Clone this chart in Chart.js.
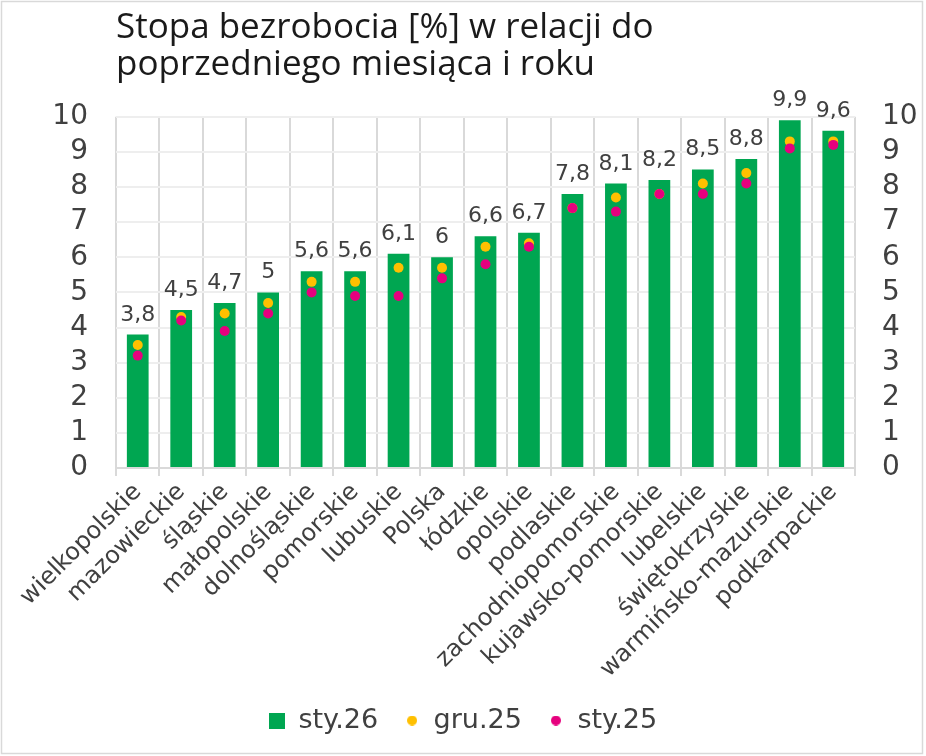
<!DOCTYPE html>
<html>
<head>
<meta charset="utf-8">
<script src="https://cdn.jsdelivr.net/npm/chart.js@4/dist/chart.umd.min.js"></script>
<style>
  html, body { margin: 0; padding: 0; background: #fff; }
  #wrap { position: relative; width: 926px; height: 756px; }
</style>
</head>
<body>
<div id="wrap"><canvas id="c" width="926" height="756"></canvas></div>
<script>
const categories = ["wielkopolskie","mazowieckie","śląskie","małopolskie","dolnośląskie","pomorskie","lubuskie","Polska","łódzkie","opolskie","podlaskie","zachodniopomorskie","kujawsko-pomorskie","lubelskie","świętokrzyskie","warmińsko-mazurskie","podkarpackie"];
const sty26 = [3.8,4.5,4.7,5,5.6,5.6,6.1,6,6.6,6.7,7.8,8.1,8.2,8.5,8.8,9.9,9.6];
const gru25 = [3.5,4.3,4.4,4.7,5.3,5.3,5.7,5.7,6.3,6.4,7.4,7.7,7.8,8.1,8.4,9.3,9.3];
const sty25 = [3.2,4.2,3.9,4.4,5.0,4.9,4.9,5.4,5.8,6.3,7.4,7.3,7.8,7.8,8.1,9.1,9.2];
const seriesNames = ["sty.26","gru.25","sty.25"];
const yTicks = [0,1,2,3,4,5,6,7,8,9,10];
const titleLines = ["Stopa bezrobocia [%] w relacji do","poprzedniego miesiąca i roku"];

const GREEN = "#00A651", YELLOW = "#FFC000", PINK = "#E6007E";
const TXT = "#404040";
const FONT = "'DejaVu Sans', sans-serif";

function makeIcon(kind, color, size) {
  const c = document.createElement('canvas');
  c.width = size; c.height = size;
  const g = c.getContext('2d');
  g.fillStyle = color;
  if (kind === 'rect') g.fillRect(0, 0, size, size);
  else { g.beginPath(); g.arc(size/2, size/2, size/2, 0, Math.PI*2); g.fill(); }
  return c;
}
const legendIcons = [makeIcon('rect', GREEN, 16), makeIcon('circle', YELLOW, 10), makeIcon('circle', PINK, 10)];

const frame = {
  id: 'frame',
  beforeDraw(chart) {
    const ctx = chart.ctx;
    ctx.save();
    ctx.fillStyle = '#fff';
    ctx.fillRect(0, 0, chart.width, chart.height);
    ctx.restore();
  },
  afterDraw(chart) {
    const ctx = chart.ctx;
    ctx.save();
    ctx.strokeStyle = '#d9d9d9';
    ctx.lineWidth = 1.5;
    ctx.strokeRect(1.5, 1.5, 921, 752);
    ctx.restore();
  }
};

const barLabels = {
  id: 'barLabels',
  afterDatasetsDraw(chart) {
    const ctx = chart.ctx;
    const meta = chart.getDatasetMeta(0);
    const data = chart.data.datasets[0].data;
    ctx.save();
    ctx.font = "22px " + FONT;
    ctx.fillStyle = TXT;
    ctx.textAlign = 'center';
    ctx.textBaseline = 'alphabetic';
    meta.data.forEach((el, i) => {
      ctx.fillText(String(data[i]).replace('.', ','), el.x, el.y - 14);
    });
    ctx.restore();
  }
};

new Chart(document.getElementById('c'), {
  data: {
    labels: categories,
    datasets: [
      { type: 'bar', label: seriesNames[0], data: sty26, backgroundColor: GREEN,
        barPercentage: 0.5, categoryPercentage: 1.0, order: 3, yAxisID: 'y' },
      { type: 'line', label: seriesNames[1], data: gru25, showLine: false,
        pointRadius: 5, pointHoverRadius: 5, pointBackgroundColor: YELLOW, pointBorderWidth: 0,
        borderColor: YELLOW, backgroundColor: YELLOW, order: 2, yAxisID: 'y' },
      { type: 'line', label: seriesNames[2], data: sty25, showLine: false,
        pointRadius: 5, pointHoverRadius: 5, pointBackgroundColor: PINK, pointBorderWidth: 0,
        borderColor: PINK, backgroundColor: PINK, order: 1, yAxisID: 'y' }
    ]
  },
  options: {
    responsive: false,
    animation: false,
    devicePixelRatio: 1,
    layout: { padding: { left: 0, right: 0, top: 0, bottom: 12 } },
    plugins: {
      tooltip: { enabled: false },
      title: {
        display: true, text: titleLines, align: 'start', fullSize: false,
        color: '#1a1a1a', font: { family: "'Open Sans', sans-serif", size: 35, weight: 'normal', lineHeight: 1.04 },
        padding: { top: 10, bottom: 34 }
      },
      legend: {
        position: 'bottom',
        labels: {
          usePointStyle: true, boxWidth: 16, boxHeight: 16, padding: 26,
          color: TXT, font: { family: FONT, size: 27 },
          sort: (a, b) => a.datasetIndex - b.datasetIndex,
          generateLabels(chart) {
            const items = Chart.defaults.plugins.legend.labels.generateLabels(chart);
            items.forEach((it) => { it.pointStyle = legendIcons[it.datasetIndex]; });
            return items;
          }
        }
      }
    },
    scales: {
      x: {
        offset: true,
        grid: { offset: true, color: '#d9d9d9', lineWidth: 2, tickLength: 8, drawOnChartArea: true },
        border: { color: '#d9d9d9', width: 2 },
        ticks: { color: TXT, font: { family: FONT, size: 24 }, maxRotation: 45, minRotation: 45, autoSkip: false, padding: 2 },
        afterFit(s) { s.height = 213; }
      },
      y: {
        position: 'left', min: 0, max: 10,
        afterBuildTicks(s) { s.ticks = yTicks.map(v => ({ value: v })); },
        grid: { color: '#eeeeee', lineWidth: 2, drawTicks: false },
        border: { display: false },
        ticks: { color: TXT, font: { family: FONT, size: 28 }, padding: 28, autoSkip: false },
        afterFit(s) { s.width = 116; }
      },
      y2: {
        position: 'right', min: 0, max: 10,
        afterBuildTicks(s) { s.ticks = yTicks.map(v => ({ value: v })); },
        grid: { display: false, drawTicks: false },
        border: { display: false },
        ticks: { color: TXT, font: { family: FONT, size: 28 }, padding: 27, autoSkip: false },
        afterFit(s) { s.width = 71; }
      }
    }
  },
  plugins: [frame, barLabels]
});
</script>
</body>
</html>
